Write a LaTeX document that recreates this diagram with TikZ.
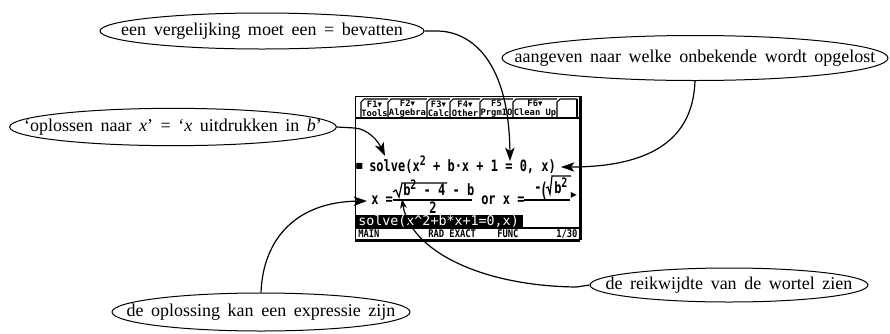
\documentclass[tikz,border=0pt]{standalone}
\usepackage{fontspec}
\setmainfont{Liberation Serif}
\newfontfamily\calcf{DejaVu Sans Mono}
\newfontfamily\symf{DejaVu Sans}
\usetikzlibrary{arrows.meta,shapes.geometric}
\newcommand{\sqtwo}{\raisebox{0.6ex}{\fontsize{7.5}{8}\selectfont 2}}
\newcommand{\bubtext}[1]{\makebox[0pt]{\spaceskip=0.42em\relax #1}}
\begin{document}
\begin{tikzpicture}[x=0.75pt,y=-0.75pt,
  bubble/.style={ellipse,draw,line width=0.75pt,inner sep=0pt,font=\fontsize{13.5}{15}\selectfont},
  conn/.style={line width=0.9pt},
  arr/.style={conn,-{Stealth[length=10pt,width=7pt,inset=2.5pt]}},
  sarr/.style={conn,-{Stealth[length=7pt,width=5pt,inset=2pt]}},
  tabtxt/.style={font=\calcf\bfseries\fontsize{6.6}{6.8}\selectfont,align=center,inner sep=0pt},
  ctxt/.style={font=\calcf\bfseries\fontsize{9}{10}\selectfont,inner sep=0pt,anchor=base west},
  stxt/.style={font=\calcf\bfseries\fontsize{6.6}{7}\selectfont,inner sep=0pt,anchor=base west},
  scrline/.style={line width=0.8pt},
]
\useasboundingbox[fill=white] (0,0) rectangle (890,333);

% ---------- calculator screen ----------
\node[draw,line width=1.1pt,anchor=north west,minimum width=168pt,minimum height=107.25pt,inner sep=0pt] (scr) at (355,96) {};
\draw[line width=2.6pt] (scr.north east) -- (scr.south east);
\draw[line width=1.8pt] (scr.south west) -- (scr.south east);
% tabs
\foreach \a/\b in {361/388,388/427,427/450,450/480,480/513,513/557,557/577}
  \draw[scrline] (\a,118) -- (\a,102) -- (\a+3,99) -- (\b,99);
\draw[scrline] (577,99) -- (577,118);
\draw[scrline] (355,118) -- (579,118);
\node[tabtxt] (tb1) at (374.5,109) {F1{\symf▾}\\Tools};
\node[tabtxt] (tb2) at (407.5,109) {F2{\symf▾}\\Algebra};
\node[tabtxt] (tb3) at (438.5,109) {F3{\symf▾}\\Calc};
\node[tabtxt] (tb4) at (465,109) {F4{\symf▾}\\Other};
\node[tabtxt] (tb5) at (496.5,109) {F5\\PrgmIO};
\node[tabtxt] (tb6) at (535,109) {F6{\symf▾}\\Clean Up};

% line 1
\node[font=\symf\fontsize{6}{6}\selectfont,inner sep=0pt] (sq) at (359.5,166) {■};
\node[ctxt] (l1) at (369,171) {\scalebox{1}[1.3]{solve(x\sqtwo{} + b·x + 1 = 0, x)}};

% line 2, first solution
\node[ctxt] (x1) at (371,204) {\scalebox{1}[1.3]{x =}};
\draw[line width=1pt] (393,200) -- (472,200);
\draw[line width=0.9pt] (393,192) -- (396,190) -- (399,197) -- (402,183) -- (447,183);
\node[ctxt] (num1) at (403,195) {\scalebox{1}[1.3]{b\sqtwo{} - 4 - b}};
\node[ctxt,anchor=base] (den1) at (433,213) {\scalebox{1}[1.3]{2}};
% second solution
\node[ctxt] (or1) at (481,204) {\scalebox{1}[1.3]{or x =}};
\draw[line width=1pt] (524,200) -- (570,200);
\node[ctxt] (neg) at (534,192) {\scalebox{1}[1.3]{-}};
\node[ctxt] (par) at (540,197) {\scalebox{1}[1.7]{(}};
\draw[line width=0.9pt] (546,188) -- (548,187) -- (550,194) -- (552,176) -- (571,176);
\node[ctxt] (num2) at (554,193) {\scalebox{1}[1.3]{b\sqtwo}};
\node[font=\symf\fontsize{9}{9}\selectfont,inner sep=0pt] (more) at (574,195) {▸};

% line 3 (entry line, inverted)
\node[fill=black,anchor=north west,minimum width=126pt,minimum height=9.75pt,inner sep=0pt] (inv) at (355,215) {};
\node[ctxt,text=white,font=\calcf\fontsize{10}{10}\selectfont] (l3) at (358,225) {solve(x\textasciicircum 2+b*x+1=0,x)};
\draw[scrline] (355,228) -- (579,228);

% status line
\node[stxt] (s1) at (358,237) {\scalebox{1}[1.2]{MAIN}};
\node[stxt] (s2) at (428,237) {\scalebox{1}[1.2]{RAD EXACT}};
\node[stxt] (s3) at (497,237) {\scalebox{1}[1.2]{FUNC}};
\node[stxt] (s4) at (556,237) {\scalebox{1}[1.2]{1/30}};

% ---------- bubbles ----------
\node[bubble,minimum width=243pt,minimum height=27pt] (e1) at (262,31) {\bubtext{een vergelijking moet een = bevatten}};
\node[bubble,minimum width=289.5pt,minimum height=33.75pt] (e2) at (695,58) {\bubtext{aangeven naar welke onbekende wordt opgelost}};
\node[bubble,minimum width=245pt,minimum height=28pt] (e3) at (173,127) {\bubtext{‘oplossen naar \textit{x}’ = ‘\textit{x} uitdrukken in \textit{b}’}};
\node[bubble,minimum width=223.5pt,minimum height=28.5pt] (e4) at (261,312) {\bubtext{de oplossing kan een expressie zijn}};
\node[bubble,minimum width=208.5pt,minimum height=25.5pt] (e5) at (729,285) {\bubtext{de reikwijdte van de wortel zien}};

% ---------- connectors ----------
\coordinate (t1) at (510,161);
\coordinate (t2) at (561,167);
\coordinate (t3) at (385,156);
\coordinate (t4) at (367,201);
\coordinate (t5) at (402,199);
\draw[arr] (e1.east) -- ++(12,0) .. controls (472,31) and (509,62) .. (t1);
\draw[arr] (e2.south) .. controls (693,140) and (650,167) .. (t2);
\draw[arr] (e3.east) -- ++(18,1) .. controls (368,129) and (378,141) .. (t3);
\draw[arr] (e4.north) .. controls (263,240) and (295,202) .. (t4);
\draw[sarr] (e5.west) -- ++(-13,2) .. controls (480,286) and (410,250) .. (t5);
\end{tikzpicture}
\end{document}
